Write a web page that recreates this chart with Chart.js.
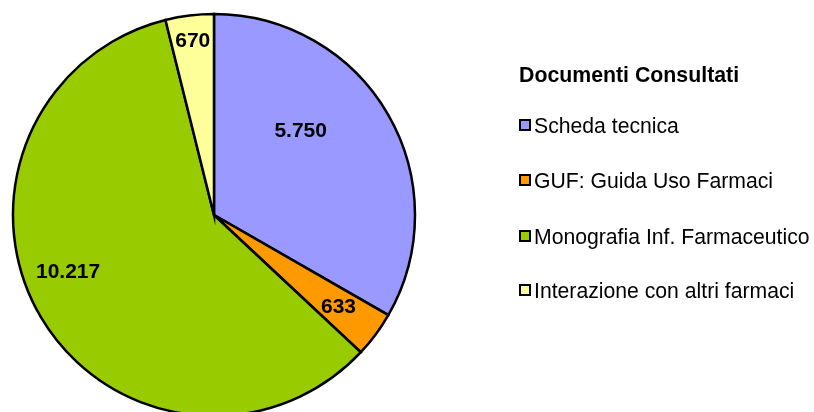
<!DOCTYPE html>
<html>
<head>
<meta charset="utf-8">
<script src="https://cdn.jsdelivr.net/npm/chart.js@4.4.1/dist/chart.umd.min.js"></script>
<style>
  html, body { margin: 0; padding: 0; background: #fff; overflow: hidden; }
  #wrap { position: relative; width: 814px; height: 412px; overflow: hidden; }
  #pie { position: absolute; left: 0; top: 0; }
  .legend-title {
    position: absolute; left: 519px; top: 63px;
    font: bold 21.3px "Liberation Sans", Arial, sans-serif; color: #000;
    line-height: 24px; white-space: nowrap;
  }
  .legend-item {
    position: absolute; left: 519px; height: 24px; line-height: 24px;
    font: 21.2px "Liberation Sans", Arial, sans-serif; color: #000; white-space: nowrap;
  }
  .legend-item .box {
    display: inline-block; width: 8px; height: 8px; border: 2px solid #000;
    vertical-align: middle; margin-right: 3px; position: relative; top: -2px;
  }
</style>
</head>
<body>
<div id="wrap">
  <canvas id="pie" width="814" height="430"></canvas>
  <div class="legend-title" id="legendTitle"></div>
  <div id="legend"></div>
</div>
<script>
const legendTitle = 'Documenti Consultati';
const categories = ['Scheda tecnica', 'GUF: Guida Uso Farmaci', 'Monografia Inf. Farmaceutico', 'Interazione con altri farmaci'];
const documentCounts = [5750, 633, 10217, 670];
const sliceColors = ['#9999FF', '#FF9900', '#99CC00', '#FFFF99'];

// Italian thousands separator: 10217 -> 10.217
const formatCount = (v) => v.toLocaleString('it-IT');

// label placement tweaks (fraction of radius, angle shift in degrees)
const labelRadius = [0.6, 0.77, 0.78, 0.87];
const labelShift = [-14, 0, 9, 0];

const sliceLabels = {
    id: 'sliceLabels',
    afterDatasetsDraw(chart) {
        const ctx = chart.ctx;
        const meta = chart.getDatasetMeta(0);
        ctx.save();
        ctx.font = 'bold 21px "Liberation Sans", Arial, sans-serif';
        ctx.fillStyle = '#000';
        ctx.textAlign = 'center';
        ctx.textBaseline = 'middle';
        meta.data.forEach((arc, i) => {
            const p = arc.getProps(['x', 'y', 'startAngle', 'endAngle', 'outerRadius']);
            const mid = (p.startAngle + p.endAngle) / 2 + labelShift[i] * Math.PI / 180;
            const r = p.outerRadius * labelRadius[i];
            ctx.fillText(formatCount(documentCounts[i]), p.x + Math.cos(mid) * r, p.y + Math.sin(mid) * r);
        });
        ctx.restore();
    }
};

new Chart(document.getElementById('pie'), {
    type: 'pie',
    data: {
        labels: categories,
        datasets: [{
            data: documentCounts,
            backgroundColor: sliceColors,
            borderColor: '#000',
            borderWidth: 2.5,
            borderJoinStyle: 'miter'
        }]
    },
    options: {
        responsive: false,
        animation: false,
        radius: 201,
        layout: { padding: { left: 0, right: 386, top: 0, bottom: 0 } },
        plugins: {
            legend: { display: false },
            tooltip: { enabled: false }
        }
    },
    plugins: [sliceLabels]
});

document.getElementById('legendTitle').textContent = legendTitle;
const legendEl = document.getElementById('legend');
const itemCenters = [126, 181, 237, 291];
categories.forEach((name, i) => {
    const item = document.createElement('div');
    item.className = 'legend-item';
    item.style.top = (itemCenters[i] - 12) + 'px';
    const box = document.createElement('span');
    box.className = 'box';
    box.style.background = sliceColors[i];
    item.appendChild(box);
    item.appendChild(document.createTextNode(name));
    legendEl.appendChild(item);
});
</script>
</body>
</html>
